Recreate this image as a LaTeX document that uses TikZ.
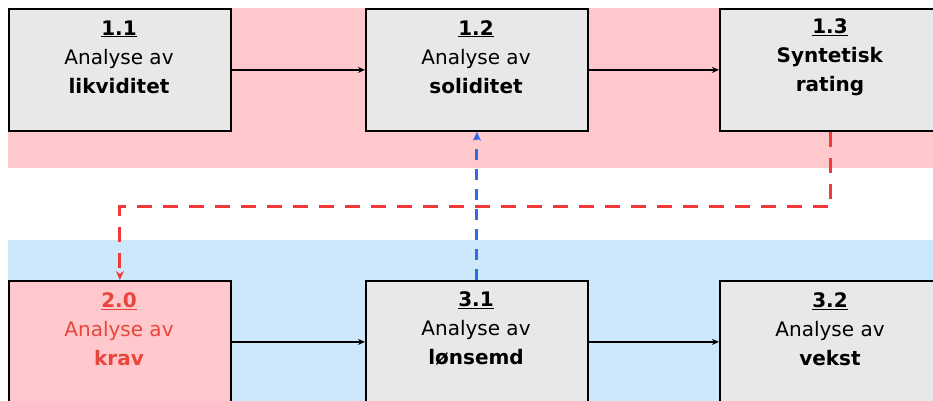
\documentclass[tikz,border=0pt]{standalone}
\usepackage{fontspec}
\setmainfont{DejaVu Sans}
\usetikzlibrary{arrows.meta}
\definecolor{bandpink}{HTML}{FFC8CC}
\definecolor{bandblue}{HTML}{CDE8FB}
\definecolor{boxgray}{HTML}{E8E8E8}
\definecolor{kravred}{HTML}{E8463C}
\definecolor{dashred}{HTML}{F03A3A}
\definecolor{dashblue}{HTML}{2F6BEA}
\begin{document}
\begin{tikzpicture}[x=1pt,y=-1pt,
  procbox/.style={draw=black, line width=1.8pt, fill=boxgray, minimum width=222pt,
    minimum height=122pt, inner sep=0pt, anchor=north west},
  boxtext/.style={align=center, font=\fontsize{20}{29}\selectfont, inner sep=0pt},
  flow/.style={draw=black, line width=1.4pt, -{Stealth[length=7pt,width=6pt]}},
  reddash/.style={draw=dashred, line width=3pt, dash pattern=on 15pt off 11pt,
    -{Stealth[length=9pt,width=8pt]}},
  bluedash/.style={draw=dashblue, line width=3pt, dash pattern=on 11pt off 9pt,
    -{Stealth[length=9pt,width=8pt]}}]
\useasboundingbox (0,0) rectangle (933,401);
\clip (0,0) rectangle (933,401);
\fill[white] (0,0) rectangle (933,401);
\fill[bandpink] (8,8) rectangle (933,168);
\fill[bandblue] (8,240) rectangle (933,401);
\node[procbox] (b11) at (8,8) {};
\node[procbox] (b12) at (365,8) {};
\node[procbox] (b13) at (719,8) {};
\node[procbox, fill=bandpink] (b20) at (8,280) {};
\node[procbox] (b31) at (365,280) {};
\node[procbox] (b32) at (719,280) {};
\node[boxtext] (t11) at (119,57) {\underline{\textbf{1.1}}\\Analyse av\\\textbf{likviditet}};
\node[boxtext] (t12) at (476,57) {\underline{\textbf{1.2}}\\Analyse av\\\textbf{soliditet}};
\node[boxtext] (t13) at (830,57) {\underline{\textbf{1.3}}\\\textbf{Syntetisk}\\\textbf{rating}};
\node[boxtext, text=kravred] (t20) at (119,329) {\underline{\textbf{2.0}}\\Analyse av\\\textbf{krav}};
\node[boxtext] (t31) at (476,329) {\underline{\textbf{3.1}}\\Analyse av\\\textbf{lønsemd}};
\node[boxtext] (t32) at (830,329) {\underline{\textbf{3.2}}\\Analyse av\\\textbf{vekst}};
\draw[flow] (b11) -- (b12);
\draw[flow] (b12) -- (b13);
\draw[flow, line width=2pt] (b20) -- (b31);
\draw[flow, line width=2pt] (b31) -- (b32);
\draw[reddash] (b13.south) -- ++(0,75) -| (b20.north);
\draw[bluedash] (b31.north) -- (b12.south);
\end{tikzpicture}
\end{document}
